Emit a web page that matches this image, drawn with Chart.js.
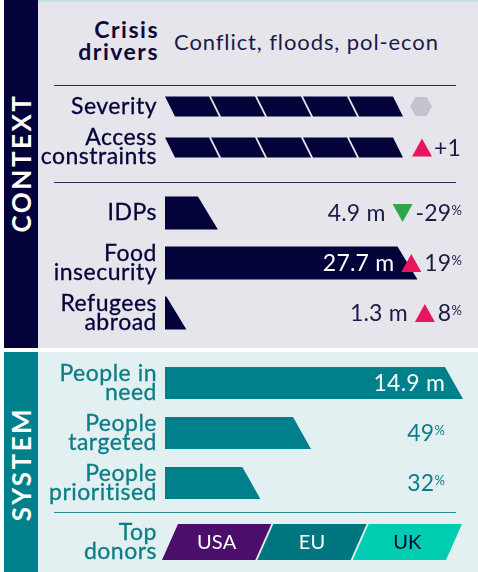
<!DOCTYPE html>
<html>
<head>
<meta charset="utf-8">
<script src="https://cdn.jsdelivr.net/npm/chart.js@4.4.1/dist/chart.umd.min.js"></script>
<style>
  body { margin: 0; width: 478px; height: 572px; background: #fff; position: relative; overflow: hidden; font-family: Lato, sans-serif; }
  .panel { position: absolute; left: 38px; width: 440px; }
  .side { position: absolute; left: 4px; width: 34px; }
  .title { position: absolute; left: 21px; transform: translate(-50%, -50%) rotate(-90deg); color: #fff; font-weight: 700; font-size: 26px; letter-spacing: 2.5px; white-space: nowrap; }
  .rule { position: absolute; left: 54px; width: 402px; height: 1px; }
  canvas { position: absolute; left: 0; }
</style>
</head>
<body>
<div class="panel" style="top:0;height:348px;background:#e6e5eb;border-top:2px solid #c6e2e8;box-sizing:border-box"></div>
<div class="side" style="top:0;height:348px;background:#03033a"></div>
<div class="title" style="top:163px">CONTEXT</div>
<div class="panel" style="top:352px;height:220px;background:#e2f0f2"></div>
<div class="side" style="top:352px;height:220px;background:#00808a"></div>
<div class="title" style="top:464px">SYSTEM</div>

<div style="position:absolute;right:319px;top:18px;text-align:right;font:700 23px/22px Lato;letter-spacing:1.5px;color:#0b0b3b">Crisis<br>drivers</div>
<div id="drivers" style="position:absolute;left:174px;top:30px;font:22px/24px Lato;letter-spacing:0.9px;color:#1b1b47"></div>
<div class="rule" style="top:85px;background:#2c2c58"></div>
<div class="rule" style="top:182px;background:#2c2c58"></div>
<div class="rule" style="top:512px;background:#2a8c94"></div>

<canvas id="rating" width="478" height="82" style="top:86px"></canvas>
<canvas id="pop" width="478" height="150" style="top:188px"></canvas>
<canvas id="system" width="478" height="150" style="top:358px"></canvas>
<canvas id="donors" width="478" height="56" style="top:514px"></canvas>

<script>
// data
var driversText = 'Conflict, floods, pol-econ';

var ratingLabels = ['Severity', ['Access', 'constraints']];
var ratingScores = [5, 5];        // out of 5 segments
var ratingChange = [0, 1];        // 0 = no change

var popLabels = ['IDPs', ['Food', 'insecurity'], ['Refugees', 'abroad']];
var popMillions = [4.9, 27.7, 1.3];
var popChange = [-29, 19, 8];     // % change

var sysLabels = [['People in', 'need'], ['People', 'targeted'], ['People', 'prioritised']];
var sysShare = [100, 49, 32];     // % of people in need
var peopleInNeed = 14.9;          // millions

var donorLabels = [['Top', 'donors']];
var donors = ['USA', 'EU', 'UK'];

var NAVY = '#03033a';
var TEAL = '#00808a';
var TEAL_TEXT = '#0c7d86';
var RED = '#e8175d';
var GREEN = '#2ca84a';

document.getElementById('drivers').textContent = driversText;

function poly(ctx, pts, color) {
    ctx.beginPath();
    ctx.moveTo(pts[0][0], pts[0][1]);
    for (var i = 1; i < pts.length; i++) ctx.lineTo(pts[i][0], pts[i][1]);
    ctx.closePath();
    ctx.fillStyle = color;
    ctx.fill();
}

function triangle(ctx, right, cy, up, color) {
    var w = 20, h = 18;
    if (up) poly(ctx, [[right - w / 2, cy - h / 2], [right, cy + h / 2], [right - w, cy + h / 2]], color);
    else poly(ctx, [[right - w, cy - h / 2], [right, cy - h / 2], [right - w / 2, cy + h / 2]], color);
    return right - w;
}

function label(ctx, txt, x, y, color) {
    ctx.fillStyle = color;
    ctx.fillText(txt, x, y);
}

// number with a small raised % sign, right aligned; returns left edge
function pctText(ctx, num, right, cy, size, color) {
    ctx.font = Math.round(size * 0.58) + 'px Lato';
    var pw = ctx.measureText('%').width;
    ctx.textAlign = 'right';
    ctx.textBaseline = 'top';
    ctx.fillStyle = color;
    ctx.fillText('%', right, cy - size * 0.38);
    ctx.font = size + 'px Lato';
    ctx.textBaseline = 'middle';
    label(ctx, String(num), right - pw, cy + 1, color);
    return right - pw - ctx.measureText(String(num)).width;
}

// draws the bars of a chart as slanted shapes
function shapePlugin(kind, slant, anchor, gap, after) {
    return {
        id: 'shape',
        beforeDraw: function (chart) {
            chart.ctx.letterSpacing = '0.5px';
        },
        beforeDatasetsDraw: function (chart) {
            var ctx = chart.ctx;
            chart.data.datasets.forEach(function (ds, di) {
                chart.getDatasetMeta(di).data.forEach(function (bar, i) {
                    var p = bar.getProps(['x', 'y', 'base', 'height'], true);
                    if (p.x - p.base < 0.5) return;
                    var t = p.y - p.height / 2, b = p.y + p.height / 2;
                    var pts;
                    if (kind === 'tip') {
                        pts = [[p.base, t], [p.x - anchor * slant, t], [p.x + (1 - anchor) * slant, b], [p.base, b]];
                    } else if (kind === 'back') {
                        pts = [[p.base, t], [p.x - gap, t], [p.x - gap + slant, b], [p.base + slant, b]];
                    } else {
                        pts = [[p.base - slant / 2, b], [p.base + slant / 2, t], [p.x - gap + slant / 2, t], [p.x - gap - slant / 2, b]];
                    }
                    var c = Array.isArray(ds.backgroundColor) ? ds.backgroundColor[i] : ds.backgroundColor;
                    poly(ctx, pts, c);
                });
            });
            return false;
        },
        afterDraw: function (chart) {
            chart.ctx.letterSpacing = '0.2px';
            after(chart);
        }
    };
}

function rowChart(id, labels, datasets, max, padRight, labelColor, axisWidth, plugin) {
    return new Chart(document.getElementById(id), {
        type: 'bar',
        data: { labels: labels, datasets: datasets },
        options: {
            indexAxis: 'y',
            responsive: false,
            animation: false,
            events: [],
            layout: { padding: { left: 0, right: padRight, top: 0, bottom: 0 } },
            plugins: { legend: { display: false }, tooltip: { enabled: false } },
            scales: {
                x: { display: false, min: 0, max: max, stacked: true },
                y: {
                    stacked: true,
                    grid: { display: false, drawTicks: false },
                    border: { display: false },
                    ticks: {
                        color: labelColor, padding: axisWidth - 157,
                        textStrokeColor: labelColor, textStrokeWidth: 0.3,
                        font: { family: 'Lato', size: 23, lineHeight: 0.82 }
                    },
                    afterFit: function (s) {
                        s.width = axisWidth;
                        s.paddingTop = 0;
                        s.paddingBottom = 0;
                    }
                }
            }
        },
        plugins: [plugin]
    });
}

// severity / access: five segments each
var ratingSets = [];
for (var k = 0; k < 5; k++) {
    ratingSets.push({
        data: ratingScores.map(function (v) { return Math.max(0, Math.min(1, v - k)); }),
        backgroundColor: NAVY,
        barThickness: 20
    });
}
rowChart('rating', ratingLabels, ratingSets, 6.478, 15, NAVY, 165, shapePlugin('back', 10, 0, 2, function (chart) {
    var ctx = chart.ctx;
    var cx = chart.chartArea.left + 256;
    ratingChange.forEach(function (c, i) {
        var cy = chart.scales.y.getPixelForValue(i);
        if (c === 0) {
            var r = 11, pts = [];
            for (var a = 0; a < 6; a++) pts.push([cx + r * Math.cos(a * Math.PI / 3), cy + r * Math.sin(a * Math.PI / 3)]);
            poly(ctx, pts, '#c4c4d0');
        } else {
            triangle(ctx, cx + 11, cy, c > 0, c > 0 ? RED : GREEN);
            ctx.font = '23px Lato';
            ctx.textAlign = 'left';
            ctx.textBaseline = 'middle';
            label(ctx, (c > 0 ? '+' : '') + c, cx + 13, cy + 1, '#1b1b47');
        }
    });
}));

// population figures
rowChart('pop', popLabels, [{ data: popMillions, backgroundColor: NAVY, barThickness: 33 }], 34.04, 15, NAVY, 165,
    shapePlugin('tip', 20, 0.5, 0, function (chart) {
        var ctx = chart.ctx;
        var bars = chart.getDatasetMeta(0).data;
        popChange.forEach(function (c, i) {
            var cy = chart.scales.y.getPixelForValue(i);
            var left = pctText(ctx, c, 462, cy, 23, '#1b1b47');
            var triLeft = triangle(ctx, left - 3, cy, c > 0, c > 0 ? RED : GREEN);
            var txt = popMillions[i] + ' m';
            ctx.font = '23px Lato';
            var w = ctx.measureText(txt).width;
            var right = triLeft - 7;
            var barTop = bars[i].x - 10;
            ctx.textAlign = 'right';
            ctx.textBaseline = 'middle';
            label(ctx, txt, right, cy + 1, (right - w < barTop) ? '#fff' : '#1b1b47');
        });
    }));

// system coverage
rowChart('system', sysLabels, [{ data: sysShare, backgroundColor: TEAL, barThickness: 32 }], 100, 15, TEAL_TEXT, 165,
    shapePlugin('tip', 18, 1, 0, function (chart) {
        var ctx = chart.ctx;
        var bars = chart.getDatasetMeta(0).data;
        sysShare.forEach(function (v, i) {
            var cy = chart.scales.y.getPixelForValue(i);
            if (i === 0) {
                ctx.font = '23px Lato';
                var txt = peopleInNeed + ' m';
                var w = ctx.measureText(txt).width;
                ctx.textAlign = 'right';
                ctx.textBaseline = 'middle';
                label(ctx, txt, 445, cy + 1, (445 - w < bars[i].x - 18) ? '#fff' : TEAL_TEXT);
            } else {
                pctText(ctx, v, 445, cy, 23, TEAL_TEXT);
            }
        });
    }));

// top donors
var donorColors = ['#4b0f6b', '#007780', '#00ccb1'];
var donorTextColors = ['#fff', '#fff', NAVY];
rowChart('donors', donorLabels, donors.map(function (d, i) {
    return { label: d, data: [1], backgroundColor: donorColors[i], barThickness: 36 };
}), 3, 22, TEAL_TEXT, 170, shapePlugin('fwd', 16, 0, 2, function (chart) {
    var ctx = chart.ctx;
    chart.data.datasets.forEach(function (ds, i) {
        var bar = chart.getDatasetMeta(i).data[0];
        ctx.font = '20px Lato';
        ctx.textAlign = 'center';
        ctx.textBaseline = 'middle';
        label(ctx, ds.label, (bar.base + bar.x) / 2 - 1, bar.y + 1, donorTextColors[i]);
    });
}));
</script>
</body>
</html>
